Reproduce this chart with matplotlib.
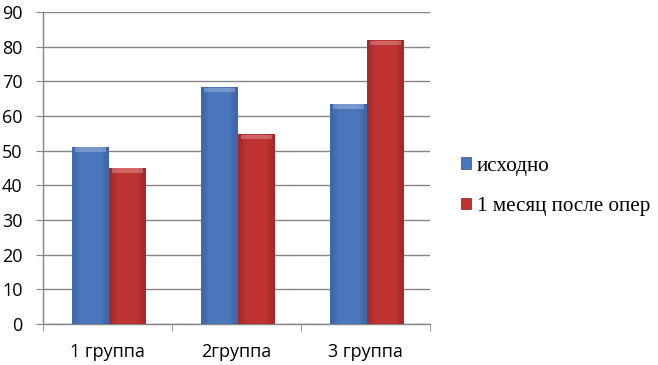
import numpy as np
import matplotlib
matplotlib.use("Agg")
import matplotlib.pyplot as plt
from matplotlib.patches import Patch
from matplotlib.colors import LinearSegmentedColormap

categories = ["1 группа", "2группа", "3 группа"]
series_names = ["исходно", "1 месяц после опер"]
baseline = [51.2, 68.3, 63.6]
after_month = [45.1, 54.8, 81.9]
yticks = list(range(0, 91, 10))

blue = "#4a76bd"
red = "#bf3333"

fig = plt.figure(figsize=(6.58, 3.65), dpi=100)
ax = fig.add_axes([0.0658, 0.1123, 0.5877, 0.8547])

x = np.arange(len(categories))
w = 0.284
b1 = ax.bar(x - w / 2 + 0.01, baseline, width=w, color=blue, zorder=3)
b2 = ax.bar(x + w / 2 + 0.01, after_month, width=w, color=red, zorder=3)

def shade(bars, base, dark):
    cmap = LinearSegmentedColormap.from_list("s", [dark, base, base, dark])
    grad = np.array([[0.0, 0.12, 0.35, 0.65, 0.88, 1.0]])
    vals = np.interp(grad, [0, 0.15, 0.85, 1.0], [0.2, 0.4, 0.6, 0.8])
    for bar in bars:
        x0, y0 = bar.get_x(), bar.get_y()
        bw, bh = bar.get_width(), bar.get_height()
        im = ax.imshow(vals, cmap=cmap, vmin=0, vmax=1, aspect="auto",
                       extent=[x0, x0 + bw, y0, y0 + bh], zorder=3.5,
                       interpolation="bicubic")
        im.set_clip_path(bar)
        ax.bar(x0 + bw / 2, 1.3, width=bw * 0.84, bottom=y0 + bh - 1.5,
               color="white", alpha=0.25, zorder=4, linewidth=0)

shade(b1, blue, "#2c4f8a")
shade(b2, red, "#7c1c1c")

font = ["Open Sans", "DejaVu Sans"]
ax.set_xlim(-0.5, 2.5)
ax.set_ylim(0, 90)
ax.set_yticks(yticks)
ax.set_yticklabels([str(v) for v in yticks], fontsize=13, family=font)
ax.set_xticks(x)
ax.set_xticklabels(categories, fontsize=13, family=font)
ax.set_xticks([-0.5, 0.5, 1.5, 2.5], minor=True)
ax.tick_params(axis="x", which="major", length=0, pad=14)
ax.tick_params(axis="x", which="minor", length=5, color="#868686", direction="out")
ax.tick_params(axis="y", length=5, color="#868686", pad=10)
ax.yaxis.grid(True, color="#868686", linewidth=1, zorder=0)
ax.set_axisbelow(True)
for s in ["top", "right"]:
    ax.spines[s].set_visible(False)
for s in ["left", "bottom"]:
    ax.spines[s].set_color("#868686")
    ax.spines[s].set_linewidth(1)

handles = [Patch(facecolor=blue, edgecolor="#2a4a80", linewidth=0.5),
           Patch(facecolor=red, edgecolor="#7a1a1a", linewidth=0.5)]
fig.legend(handles, series_names, loc="center left",
           bbox_to_anchor=(0.688, 0.49), frameon=False,
           prop={"family": ["Liberation Serif", "DejaVu Serif"], "size": 15.2},
           handlelength=0.45, handleheight=0.45, handletextpad=0.3,
           labelspacing=1.0, borderaxespad=0)

fig.savefig("out.png", dpi=100)
